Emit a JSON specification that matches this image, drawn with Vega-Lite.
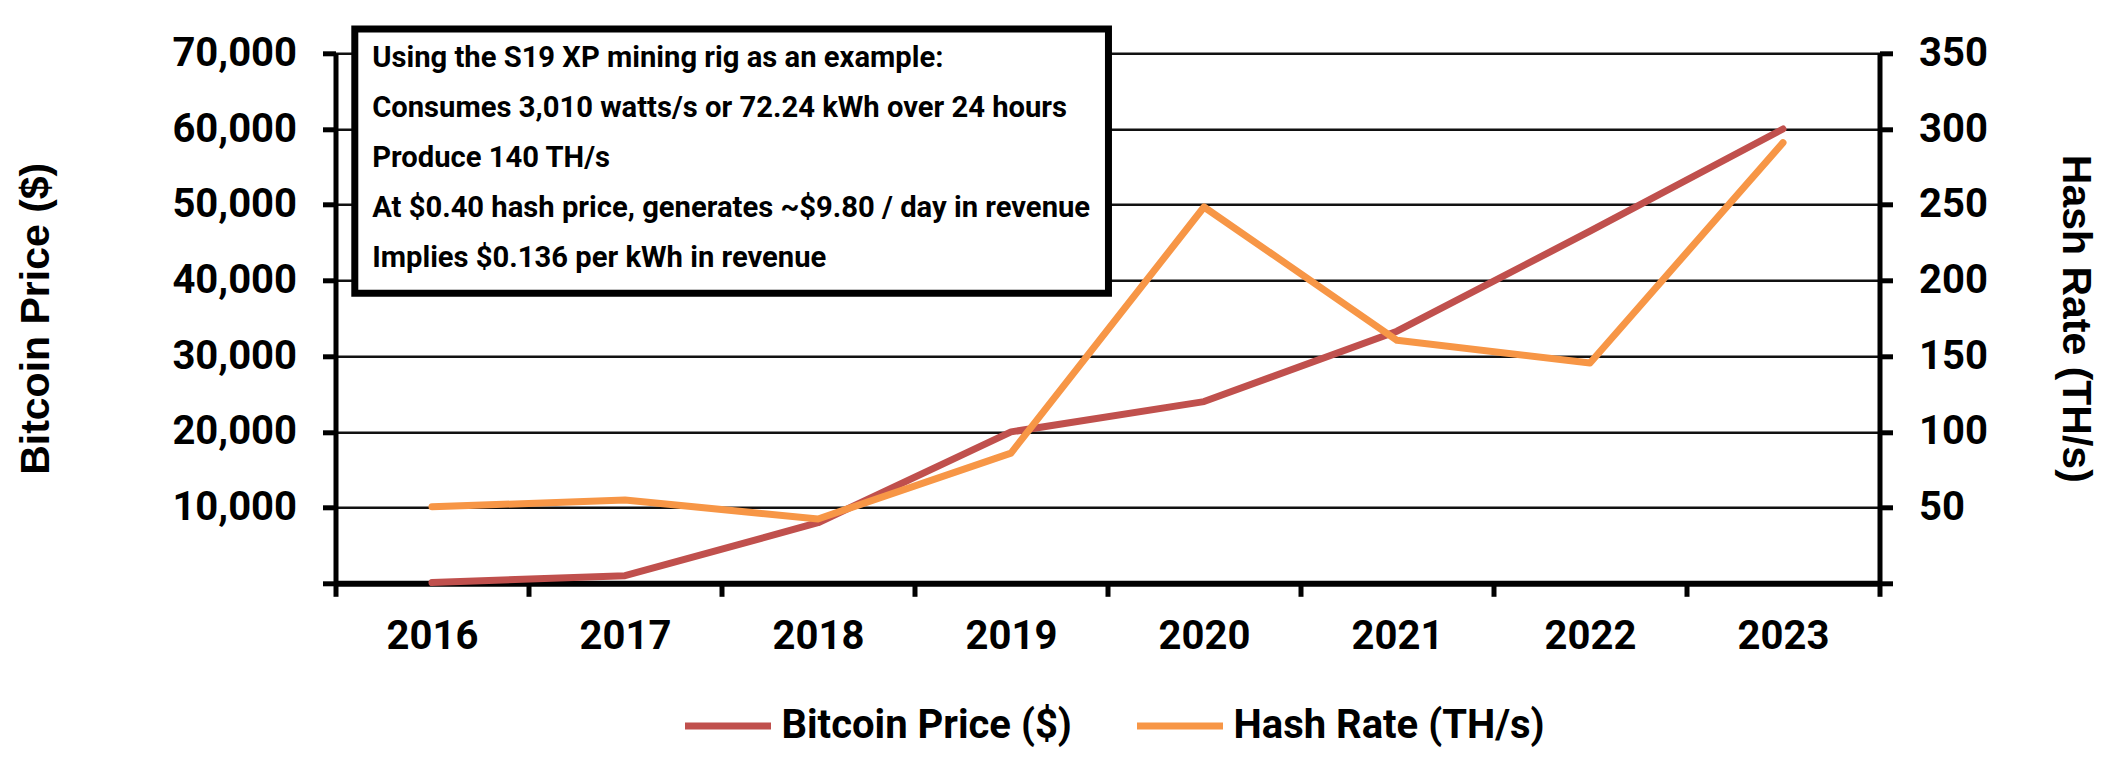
{
  "$schema": "https://vega.github.io/schema/vega-lite/v6.json",
  "width": 1544,
  "height": 530,
  "autosize": {"type": "none"},
  "padding": {"left": 335.5, "top": 53.3, "right": 231.5, "bottom": 189.7},
  "background": "white",
  "data": {
    "values": [
      {"year": "2016", "btc_price": 100, "hash_rate": 50.5},
      {"year": "2017", "btc_price": 1000, "hash_rate": 55},
      {"year": "2018", "btc_price": 8000, "hash_rate": 42.5},
      {"year": "2019", "btc_price": 20000, "hash_rate": 86},
      {"year": "2020", "btc_price": 24000, "hash_rate": 248.5},
      {"year": "2021", "btc_price": 33300, "hash_rate": 160.5},
      {"year": "2022", "btc_price": 46500, "hash_rate": 145.5},
      {"year": "2023", "btc_price": 60000, "hash_rate": 291}
    ]
  },
  "layer": [
    {
      "mark": {"type": "line", "strokeWidth": 7, "strokeJoin": "round", "strokeCap": "round"},
      "encoding": {
        "x": {
          "field": "year",
          "type": "ordinal",
          "scale": {"type": "band", "paddingInner": 0, "paddingOuter": 0},
          "axis": {
            "title": null,
            "tickBand": "extent",
            "labelAngle": 0,
            "grid": false,
            "domainColor": "black",
            "domainWidth": 6,
            "tickColor": "black",
            "tickWidth": 5,
            "tickSize": 13,
            "labelFont": "Roboto",
            "labelFontSize": 40,
            "labelFontWeight": "bold",
            "labelColor": "black",
            "labelPadding": 20
          }
        },
        "y": {
          "field": "btc_price",
          "type": "quantitative",
          "scale": {"domain": [0, 70000], "nice": false},
          "axis": {
            "title": "Bitcoin Price ($)",
            "orient": "left",
            "values": [0, 10000, 20000, 30000, 40000, 50000, 60000, 70000],
            "labelExpr": "datum.value == 0 ? '' : format(datum.value, ',')",
            "grid": true,
            "gridColor": "#111111",
            "gridWidth": 2.5,
            "domainColor": "black",
            "domainWidth": 5,
            "tickColor": "black",
            "tickWidth": 5,
            "tickSize": 13,
            "labelFont": "Roboto",
            "labelFontSize": 40,
            "labelFontWeight": "bold",
            "labelColor": "black",
            "labelPadding": 26,
            "titleFont": "Liberation Sans",
            "titleFontSize": 41,
            "titleFontWeight": "bold",
            "titleColor": "black",
            "titlePadding": 114
          }
        },
        "color": {
          "datum": "Bitcoin Price ($)",
          "scale": {
            "domain": ["Bitcoin Price ($)", "Hash Rate (TH/s)"],
            "range": ["#C0504D", "#F79646"]
          },
          "legend": {
            "orient": "none",
            "legendX": 346,
            "legendY": 626,
            "direction": "horizontal",
            "title": null,
            "padding": 0,
            "symbolType": "stroke",
            "symbolSize": 7396,
            "symbolStrokeWidth": 7,
            "labelFont": "Roboto",
            "labelFontSize": 40,
            "labelFontWeight": "bold",
            "labelColor": "black",
            "labelLimit": 500,
            "labelOffset": 7,
            "columnPadding": 50
          }
        }
      }
    },
    {
      "mark": {"type": "line", "strokeWidth": 7, "strokeJoin": "round", "strokeCap": "round"},
      "encoding": {
        "x": {
          "field": "year",
          "type": "ordinal",
          "scale": {"type": "band", "paddingInner": 0, "paddingOuter": 0},
          "axis": null
        },
        "y": {
          "field": "hash_rate",
          "type": "quantitative",
          "scale": {"domain": [0, 350], "nice": false},
          "axis": {
            "title": "Hash Rate (TH/s)",
            "orient": "right",
            "values": [0, 50, 100, 150, 200, 250, 300, 350],
            "labelExpr": "datum.value == 0 ? '' : datum.label",
            "grid": false,
            "domainColor": "black",
            "domainWidth": 5,
            "tickColor": "black",
            "tickWidth": 5,
            "tickSize": 13,
            "labelFont": "Roboto",
            "labelFontSize": 40,
            "labelFontWeight": "bold",
            "labelColor": "black",
            "labelPadding": 26,
            "titleFont": "Liberation Sans",
            "titleFontSize": 41,
            "titleFontWeight": "bold",
            "titleColor": "black",
            "titlePadding": 66
          }
        },
        "color": {"datum": "Hash Rate (TH/s)"}
      }
    },
    {
      "data": {"values": [{}]},
      "mark": {"type": "rect", "fill": "white", "stroke": "black", "strokeWidth": 7, "clip": false},
      "encoding": {
        "x": {"datum": 0.1, "type": "quantitative", "scale": {"domain": [0, 8], "nice": false, "zero": false}, "axis": null},
        "x2": {"datum": 4.005},
        "y": {"datum": 73200, "type": "quantitative", "scale": {"domain": [0, 70000], "nice": false}, "axis": null},
        "y2": {"datum": 38300}
      }
    },
    {
      "data": {"values": [{}]},
      "mark": {
        "type": "text",
        "align": "left",
        "baseline": "middle",
        "font": "Roboto",
        "fontSize": 29.2,
        "fontWeight": "bold",
        "color": "black",
        "lineHeight": 50,
        "clip": false,
        "text": [
          "Using the S19 XP mining rig as an example:",
          "Consumes 3,010 watts/s or 72.24 kWh over 24 hours",
          "Produce 140 TH/s",
          "At $0.40 hash price, generates ~$9.80 / day in revenue",
          "Implies $0.136 per kWh in revenue"
        ]
      },
      "encoding": {
        "x": {"datum": 0.19, "type": "quantitative", "scale": {"domain": [0, 8], "nice": false, "zero": false}, "axis": null},
        "y": {"datum": 69343, "type": "quantitative", "scale": {"domain": [0, 70000], "nice": false}, "axis": null}
      }
    }
  ],
  "resolve": {"scale": {"x": "independent", "y": "independent"}},
  "config": {"view": {"stroke": null}, "font": "Roboto"}
}
